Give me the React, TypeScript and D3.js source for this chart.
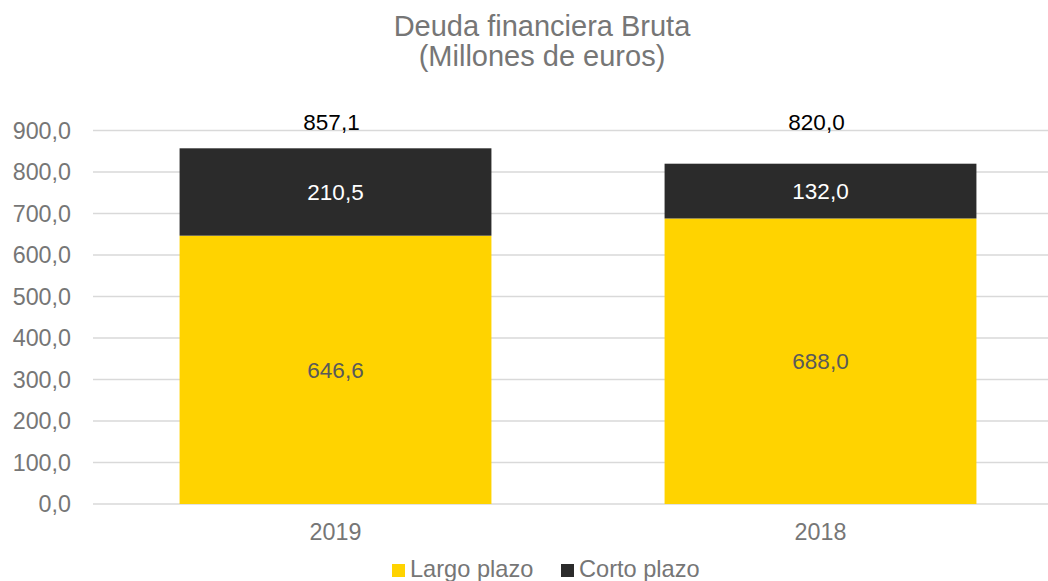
import React from "react";
import * as d3 from "d3";

const categories = ["2019", "2018"];
const largoPlazo = [646.6, 688.0];
const cortoPlazo = [210.5, 132.0];
const totals = [857.1, 820.0];
const yTicks = [0, 100, 200, 300, 400, 500, 600, 700, 800, 900];
const seriesNames = ["Largo plazo", "Corto plazo"];
const seriesColors = ["#FFD300", "#2B2B2B"];
const titleLines = ["Deuda financiera Bruta", "(Millones de euros)"];

const W = 1048;
const H = 581;
const FONT = "Arial, 'Liberation Sans', sans-serif";
const fmt = (v: number) => v.toFixed(1).replace(".", ",");

export default function App() {
  const y = d3.scaleLinear().domain([0, 900]).range([504, 130.5]);
  const x = d3
    .scaleBand<string>()
    .domain(categories)
    .range([93, 1063])
    .paddingInner(0.357)
    .paddingOuter(0.1785);
  const bw = x.bandwidth();

  return (
    <svg
      width={W}
      height={H}
      style={{ position: "absolute", left: 0, top: 0, background: "#fff" }}
      fontFamily={FONT}
    >
      {titleLines.map((t, i) => (
        <text
          key={t}
          x={542}
          y={35.5 + i * 30}
          textAnchor="middle"
          fontSize={29}
          fill="#767676"
        >
          {t}
        </text>
      ))}
      {yTicks.map((t) => (
        <g key={t}>
          <line x1={93} x2={W} y1={y(t)} y2={y(t)} stroke="#D9D9D9" strokeWidth={1.3} />
          <text x={71} y={y(t) + 8} textAnchor="end" fontSize={23.3} fill="#767676">
            {fmt(t)}
          </text>
        </g>
      ))}
      {categories.map((c, i) => {
        const x0 = x(c)!;
        const cx = x0 + bw / 2;
        const yl = y(largoPlazo[i]);
        const yc = y(largoPlazo[i] + cortoPlazo[i]);
        return (
          <g key={c}>
            <rect x={x0} y={yl} width={bw} height={y(0) - yl} fill={seriesColors[0]} />
            <rect x={x0} y={yc} width={bw} height={yl - yc} fill={seriesColors[1]} />
            <text x={cx} y={(yl + y(0)) / 2 + 8} textAnchor="middle" fontSize={22.5} fill="#595959">
              {fmt(largoPlazo[i])}
            </text>
            <text x={cx} y={(yl + yc) / 2 + 8} textAnchor="middle" fontSize={22.5} fill="#FFFFFF">
              {fmt(cortoPlazo[i])}
            </text>
            <text x={cx - 4} y={y(900) - 0.5} textAnchor="middle" fontSize={22.5} fill="#000000">
              {fmt(totals[i])}
            </text>
            <text x={cx} y={540} textAnchor="middle" fontSize={23.3} fill="#767676">
              {c}
            </text>
          </g>
        );
      })}
      {seriesNames.map((s, i) => {
        const lx = [392, 561][i];
        return (
          <g key={s}>
            <rect x={lx} y={564} width={13} height={13} fill={seriesColors[i]} />
            <text x={lx + 18} y={577} fontSize={23.6} fill="#767676">
              {s}
            </text>
          </g>
        );
      })}
    </svg>
  );
}
